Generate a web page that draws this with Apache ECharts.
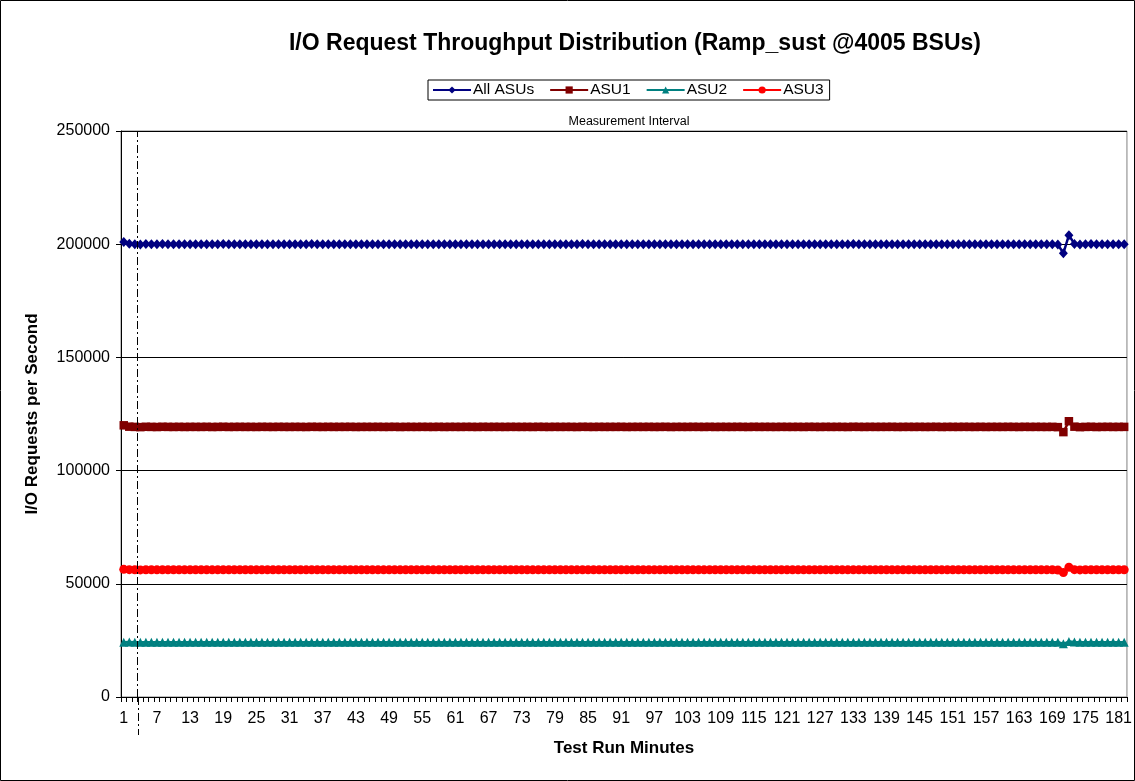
<!DOCTYPE html>
<html><head><meta charset="utf-8">
<script src="https://cdn.jsdelivr.net/npm/echarts@6/dist/echarts.min.js"></script>
<style>html,body{margin:0;padding:0;background:#fff}#c{width:1135px;height:781px}</style>
</head><body><div id="c"></div>
<script>
var categories = [];
for (var i = 1; i <= 182; i++) categories.push(String(i));

var allAsus = [
201000,200200,200000,199900,200100,200000,199950,200050,200000,199980,
200020,199970,200010,200000,199990,200030,199960,200000,200040,199980,
200000,200020,199990,200010,199970,200030,200000,199980,200020,200000,
199990,200010,200000,199960,200040,200000,199980,200020,199990,200010,
200000,200030,199970,200000,200010,199990,200020,199980,200000,200030,
199960,200010,200000,199990,200020,200000,199980,200030,199970,200010,
200000,199990,200020,200000,199970,200030,199990,200010,200000,199980,
200020,200000,199990,200010,199970,200030,200000,199980,200020,199990,
200010,200000,199960,200040,200000,199980,200020,199990,200010,200000,
200030,199970,200000,200010,199990,200020,199980,200000,200030,199960,
200010,200000,199990,200020,200000,199980,200030,199970,200010,200000,
199990,200020,200000,199970,200030,199990,200010,200000,199980,200020,
200000,199990,200010,199970,200030,200000,199980,200020,199990,200010,
200000,199960,200040,200000,199980,200020,199990,200010,200000,200030,
199970,200000,200010,199990,200020,199980,200000,200030,199960,200010,
200000,199990,200020,200000,199980,200030,199970,200010,200000,199990,
200020,200000,199970,200030,199990,200010,200000,199980,200020,199900,
196000,204000,200100,199900,200000,200050,199950,200000,200020,199980,
200000,200010
];

var asu1 = [
120000,119400,119300,119200,119350,119300,119250,119350,119300,119280,
119320,119270,119310,119300,119290,119330,119260,119300,119340,119280,
119300,119320,119290,119310,119270,119330,119300,119280,119320,119300,
119290,119310,119300,119260,119340,119300,119280,119320,119290,119310,
119300,119330,119270,119300,119310,119290,119320,119280,119300,119330,
119260,119310,119300,119290,119320,119300,119280,119330,119270,119310,
119300,119290,119320,119300,119270,119330,119290,119310,119300,119280,
119320,119300,119290,119310,119270,119330,119300,119280,119320,119290,
119310,119300,119260,119340,119300,119280,119320,119290,119310,119300,
119330,119270,119300,119310,119290,119320,119280,119300,119330,119260,
119310,119300,119290,119320,119300,119280,119330,119270,119310,119300,
119290,119320,119300,119270,119330,119290,119310,119300,119280,119320,
119300,119290,119310,119270,119330,119300,119280,119320,119290,119310,
119300,119260,119340,119300,119280,119320,119290,119310,119300,119330,
119270,119300,119310,119290,119320,119280,119300,119330,119260,119310,
119300,119290,119320,119300,119280,119330,119270,119310,119300,119290,
119320,119300,119270,119330,119290,119310,119300,119280,119320,119200,
117000,121800,119400,119200,119300,119350,119250,119300,119320,119280,
119300,119310
];

var asu2 = [
24200,24250,24200,24180,24220,24200,24190,24210,24200,24195,
24205,24190,24200,24210,24195,24205,24190,24200,24210,24195,
24200,24205,24195,24200,24190,24210,24200,24195,24205,24200,
24195,24200,24210,24190,24205,24200,24195,24205,24200,24210,
24200,24205,24190,24200,24210,24195,24205,24190,24200,24210,
24190,24205,24200,24195,24205,24200,24190,24210,24195,24200,
24200,24195,24205,24200,24190,24210,24195,24200,24205,24190,
24205,24200,24195,24210,24190,24205,24200,24195,24205,24195,
24200,24210,24190,24205,24200,24195,24205,24190,24200,24200,
24210,24190,24200,24205,24195,24205,24190,24200,24210,24190,
24205,24200,24195,24205,24200,24190,24210,24195,24200,24200,
24195,24205,24200,24190,24210,24195,24200,24205,24190,24205,
24200,24195,24205,24190,24210,24200,24195,24205,24195,24200,
24210,24190,24205,24200,24195,24205,24190,24200,24200,24210,
24190,24200,24205,24195,24205,24190,24200,24210,24190,24205,
24200,24195,24205,24200,24190,24210,24195,24200,24200,24195,
24205,24200,24190,24210,24195,24200,24205,24190,24205,24150,
23500,24500,24250,24150,24200,24210,24190,24200,24205,24195,
24200,24205
];

var asu3 = [
56400,56250,56200,56150,56230,56200,56180,56220,56200,56190,
56210,56180,56200,56220,56190,56210,56170,56200,56230,56190,
56200,56210,56190,56200,56170,56220,56200,56190,56210,56200,
56190,56200,56220,56170,56210,56200,56190,56210,56200,56220,
56200,56210,56180,56200,56220,56190,56210,56180,56200,56220,
56170,56210,56200,56190,56210,56200,56180,56220,56190,56200,
56200,56190,56210,56200,56180,56220,56190,56200,56210,56180,
56210,56200,56190,56220,56180,56210,56200,56190,56210,56190,
56200,56220,56170,56210,56200,56190,56210,56180,56200,56200,
56220,56180,56200,56210,56190,56210,56180,56200,56220,56170,
56210,56200,56190,56210,56200,56180,56220,56190,56200,56200,
56190,56210,56200,56180,56220,56190,56200,56210,56180,56210,
56200,56190,56210,56180,56220,56200,56190,56210,56190,56200,
56220,56170,56210,56200,56190,56210,56180,56200,56200,56220,
56180,56200,56210,56190,56210,56180,56200,56220,56170,56210,
56200,56190,56210,56200,56180,56220,56190,56200,56200,56190,
56210,56200,56180,56220,56190,56200,56210,56180,56210,56100,
55000,57300,56250,56150,56200,56210,56190,56200,56210,56190,
56200,56210
];

var yTicks = [0, 50000, 100000, 150000, 200000, 250000];
var measurementStart = 3;

var FONT = '"Liberation Sans", Arial, sans-serif';
var chart = echarts.init(document.getElementById('c'), null, {renderer: 'canvas'});

function lineSeries(name, data, color, symbol, size) {
  return {
    name: name, type: 'line', data: data,
    symbol: symbol, symbolSize: size, showSymbol: true, showAllSymbol: true,
    itemStyle: {color: color}, lineStyle: {color: color, width: 2.5},
    animation: false, z: 3
  };
}

function graphics(mx, y0) {
  var g = [
    {type: 'rect', shape: {x: 0.5, y: 0.5, width: 1134, height: 780},
     style: {fill: 'none', stroke: '#000', lineWidth: 1}, silent: true},
    {type: 'text', x: 629, y: 122,
     style: {text: 'Measurement Interval', font: '12.5px ' + FONT, fill: '#000',
             textAlign: 'center', textVerticalAlign: 'middle'}}
  ];
  if (mx != null) {
    g.push({type: 'line', shape: {x1: Math.round(mx) + 0.5, y1: y0, x2: Math.round(mx) + 0.5, y2: y0 + 38},
      style: {stroke: '#000', lineWidth: 1, lineDash: [8, 3, 2, 3]}, silent: true});
  }
  return g;
}

chart.setOption({
  animation: false,
  textStyle: {fontFamily: FONT},
  title: {
    text: 'I/O Request Throughput Distribution (Ramp_sust @4005 BSUs)',
    left: 630, textAlign: 'center', top: 27,
    textStyle: {fontFamily: FONT, fontSize: 23, fontWeight: 'bold', color: '#000'}
  },
  legend: {
    top: 80, left: 428,
    data: ['All ASUs', 'ASU1', 'ASU2', 'ASU3'],
    borderColor: '#000', borderWidth: 1, padding: [2, 6, 2, 4],
    itemWidth: 38, itemHeight: 9, itemGap: 15,
    textStyle: {fontFamily: FONT, fontSize: 15.5, color: '#000', padding: [0, 0, 0, -3]}
  },
  grid: {
    left: 121, right: 8, top: 131, bottom: 84,
    show: true, borderColor: '#808080', borderWidth: 1, backgroundColor: 'transparent'
  },
  xAxis: [{
    type: 'category', data: categories, boundaryGap: true,
    name: 'Test Run Minutes', nameLocation: 'middle', nameGap: 43,
    nameTextStyle: {fontFamily: FONT, fontSize: 17, fontWeight: 'bold', color: '#000'},
    axisLine: {lineStyle: {color: '#000', width: 1}},
    axisTick: {show: true, interval: 0, alignWithLabel: false, length: 5, lineStyle: {color: '#000'}},
    axisLabel: {interval: 5, fontFamily: FONT, fontSize: 16, color: '#000', margin: 14},
    splitLine: {show: false}
  }, {
    type: 'value', min: 0, max: 182, show: false, gridIndex: 0
  }],
  yAxis: {
    type: 'value', min: 0, max: 250000, interval: 50000,
    name: 'I/O Requests per Second', nameLocation: 'middle', nameGap: 80, nameRotate: 90,
    nameTextStyle: {fontFamily: FONT, fontSize: 17, fontWeight: 'bold', color: '#000'},
    axisLine: {show: true, lineStyle: {color: '#000', width: 1}},
    axisTick: {show: true, length: 5, lineStyle: {color: '#000'}},
    axisLabel: {fontFamily: FONT, fontSize: 16, color: '#000', margin: 11,
      formatter: function (v) { return yTicks.indexOf(v) >= 0 ? String(v) : ''; }},
    splitLine: {show: true, lineStyle: {color: '#000', width: 1}}
  },
  series: [
    lineSeries('All ASUs', allAsus, '#000080', 'diamond', [9, 10]),
    lineSeries('ASU1', asu1, '#800000', 'rect', 8.5),
    lineSeries('ASU2', asu2, '#008080', 'triangle', 9),
    lineSeries('ASU3', asu3, '#FF0000', 'circle', 9),
    {
      name: 'mi', type: 'line', xAxisIndex: 1, yAxisIndex: 0, data: [],
      silent: true, animation: false,
      markLine: {
        silent: true, symbol: ['none', 'none'], animation: false,
        label: {show: false},
        lineStyle: {color: '#000', width: 1, type: [8, 3, 2, 3]},
        data: [{xAxis: measurementStart}]
      }
    }
  ],
  graphic: graphics(null, null)
});

var mx = chart.convertToPixel({xAxisIndex: 1}, measurementStart);
var y0 = chart.convertToPixel({yAxisIndex: 0}, 0);
chart.setOption({graphic: graphics(mx, y0)}, {replaceMerge: ['graphic']});
</script></body></html>
